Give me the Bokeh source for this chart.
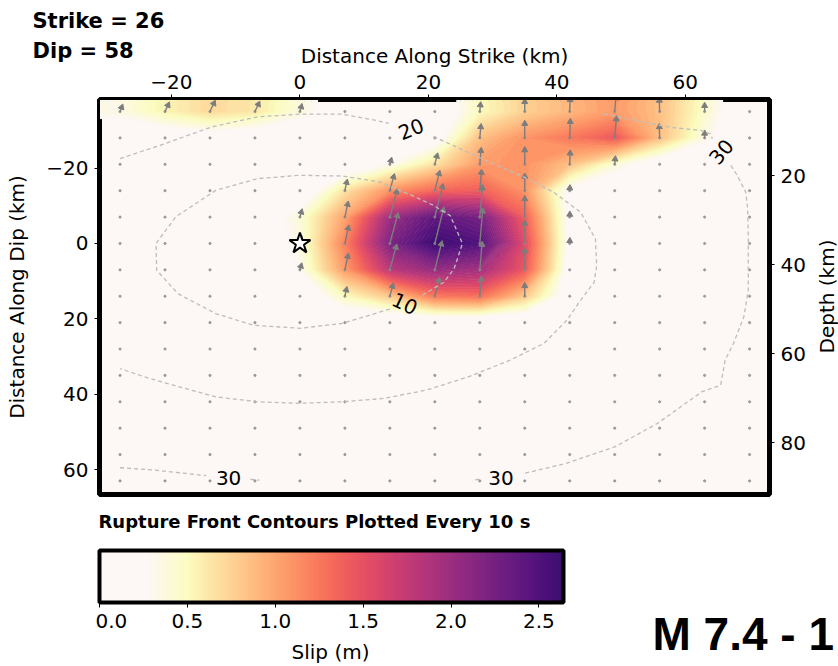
import math
import numpy as np
from bokeh.plotting import figure
from bokeh.models import (Range1d, LinearAxis, FixedTicker, LinearColorMapper, ColorBar,
                          PrintfTickFormatter)
from bokeh.palettes import Magma256
from bokeh.core.properties import value
from bokeh.embed import file_html
from bokeh.resources import INLINE

# ---------------- data ----------------
STRIKE = 26
DIP = 58
HYPO_DEPTH_KM = 35.2
HYPO_X = [0.0]
HYPO_Y = [0.0]

ALONG_STRIKE_KM = [-28, -21, -14, -7, 0, 7, 14, 21, 28, 35, 42, 49, 56, 63, 70]
ALONG_DIP_KM = [-35, -28, -21, -14, -7, 0, 7, 14, 21, 28, 35, 42, 49, 56, 63]

# slip (m) per subfault, rows = along dip (top to bottom), cols = along strike
SLIP_M = [
    [0.35, 0.55, 0.70, 0.62, 0.38, 0.10, 0.00, 0.05, 0.50, 0.75, 0.90, 1.05, 0.85, 0.45, 0.00],
    [0.05, 0.10, 0.15, 0.10, 0.05, 0.00, 0.05, 0.15, 0.85, 1.10, 1.25, 1.45, 0.85, 0.35, 0.00],
    [0.00, 0.00, 0.00, 0.00, 0.00, 0.05, 0.30, 0.65, 1.05, 1.10, 0.85, 0.40, 0.10, 0.00, 0.00],
    [0.00, 0.00, 0.00, 0.00, 0.05, 0.65, 1.10, 1.35, 1.40, 1.10, 0.20, 0.05, 0.00, 0.00, 0.00],
    [0.00, 0.00, 0.00, 0.05, 0.40, 1.00, 2.00, 2.40, 2.25, 1.40, 0.20, 0.00, 0.00, 0.00, 0.00],
    [0.00, 0.00, 0.00, 0.05, 0.35, 1.20, 2.20, 2.64, 2.50, 1.55, 0.20, 0.00, 0.00, 0.00, 0.00],
    [0.00, 0.00, 0.00, 0.00, 0.30, 1.05, 1.80, 2.05, 1.95, 1.45, 0.15, 0.00, 0.00, 0.00, 0.00],
    [0.00, 0.00, 0.00, 0.00, 0.05, 0.50, 0.80, 1.25, 1.30, 0.80, 0.10, 0.00, 0.00, 0.00, 0.00],
    [0.00] * 15,
    [0.00] * 15,
    [0.00] * 15,
    [0.00] * 15,
    [0.00] * 15,
    [0.00] * 15,
    [0.00] * 15,
]

# on-screen direction of the slip vectors per along-strike column (deg, CCW from east)
SLIP_DIR_DEG = [70, 65, 65, 65, 75, 78, 75, 76, 85, 90, 88, 85, 92, 90, 90]

# rupture front contours (km along strike, km along dip); gaps leave room for labels
RF10_X = [14.0, 6.6, 0.0, -7.2, -13.1, -19.0, -22.3, -22.4, -19.3, -13.1, -6.6, 0.0, 6.6,
          12.5, 17.5, 20.8, 23.4, 25.3, 24.0, 22.4, 18.6]
RF10_Y = [17.4, 21.2, 22.5, 21.7, 18.6, 13.3, 7.1, 0.0, -7.1, -14.1, -17.2, -18.1, -17.9,
          -16.3, -12.7, -10.1, -7.4, 0.0, 6.7, 10.3, 14.2]
RF20A_X = [-28.0, -21.0, -13.8, -6.6, 0.0, 6.6, 12.0, 13.8]
RF20A_Y = [-22.5, -26.5, -30.9, -33.6, -34.3, -34.3, -32.6, -31.9]
RF20B_X = [20.8, 25.5, 30.7, 34.9, 39.5, 43.7, 46.0, 46.2, 45.8, 43.5, 41.6, 38.0, 32.8, 26.2,
           19.7, 13.1, 6.6, 0.0, -6.6, -13.1, -19.7, -24.2, -28.0]
RF20B_Y = [-28.4, -24.7, -20.7, -17.6, -13.6, -8.3, -1.2, 5.8, 10.3, 15.5, 20.3, 26.5, 30.9,
           35.4, 38.9, 41.1, 42.0, 42.4, 42.0, 40.7, 37.6, 35.4, 33.2]
RF30A_X = [47.3, 51.0, 57.7, 62.4, 63.9, 64.2]
RF30A_Y = [-34.4, -33.1, -30.8, -30.0, -29.1, -27.8]
RF30B_X = [67.1, 68.1, 69.4, 69.7, 69.8, 69.8, 69.1, 67.5, 66.2, 65.5, 62.6, 55.7, 49.1, 41.3, 34.9]
RF30B_Y = [-20.7, -18.0, -13.6, -9.2, -1.8, 12.4, 19.5, 26.5, 30.9, 37.6, 39.3, 47.7, 53.9, 58.4, 61.0]
RF30C_X = [27.9, 26.8]
RF30C_Y = [62.5, 62.9]
RF30D_X = [-28.0, -22.9, -17.7, -14.6]
RF30D_Y = [59.5, 60.1, 61.0, 61.6]
RF30E_X = [-7.7, -6.3]
RF30E_Y = [62.6, 62.8]

RF_LABEL_TEXT = ["10", "20", "30", "30", "30"]
RF_LABEL_X = [16.3, 17.3, 65.6, -11.1, 31.3]
RF_LABEL_Y = [16.0, -30.3, -24.3, 62.3, 62.2]
RF_LABEL_DEG = [-25, 22, 50, 0, 0]

X_TICKS = [-20, 0, 20, 40, 60]
Y_TICKS = [-20, 0, 20, 40, 60]
DEPTH_TICKS = [20, 40, 60, 80]
SLIP_TICKS = [0.0, 0.5, 1.0, 1.5, 2.0, 2.5]
SLIP_MAX = 2.64

TITLE_LINES = ["M 7.4 - 1", "Tri"]

# ---------------- layout constants ----------------
W, H = 838, 666
FL, FT, FR, FB = 99, 99, 769, 494
X0, X1 = -31.2, 73.1
Y_TOP, Y_BOT = -38.2, 66.6
PX_PER_KM_X = (FR - FL) / (X1 - X0)
PX_PER_KM_Y = (FB - FT) / (Y_BOT - Y_TOP)
ARROW_PX_PER_M = 13.0
BG = "#fdf7f6"
FONT = "DejaVu Sans"
ARROW_GRAY = "#7d7d7d"


def hex2rgb(h):
    return tuple(int(h[i:i + 2], 16) for i in (1, 3, 5))


BG_RGB = hex2rgb(BG)
YEL_RGB = hex2rgb(Magma256[255])


def slip_color(s):
    if s <= 0.27:
        r, g, b = BG_RGB
    elif s < 0.5:
        w = (s - 0.27) / 0.23
        r, g, b = [round(a + (c - a) * w) for a, c in zip(BG_RGB, YEL_RGB)]
    else:
        t = min(1.0, max(0.0, 1.0 - 0.374 * (s - 0.5)))
        return Magma256[int(round(t * 255))]
    return "#%02x%02x%02x" % (r, g, b)


PALETTE = [slip_color(SLIP_MAX * i / 255) for i in range(256)]
mapper = LinearColorMapper(palette=PALETTE, low=0, high=SLIP_MAX)

# ---------------- main panel ----------------
p = figure(width=W, height=H, x_range=Range1d(X0, X1), y_range=Range1d(Y_BOT, Y_TOP),
           x_axis_location="above", output_backend="svg", toolbar_location=None,
           min_border_left=FL, min_border_right=W - FR, min_border_top=FT,
           min_border_bottom=H - FB)
p.background_fill_color = BG
p.border_fill_color = "white"
p.outline_line_color = "black"
p.outline_line_width = 5
p.grid.visible = False

# slip surface drawn as finely spaced filled contours of the subfault grid
xe = [ALONG_STRIKE_KM[0] - 3.5] + ALONG_STRIKE_KM + [ALONG_STRIKE_KM[-1] + 3.5]
ye = [ALONG_DIP_KM[0] - 3.5] + ALONG_DIP_KM + [ALONG_DIP_KM[-1] + 3.5]
ze = np.pad(np.array(SLIP_M, dtype=float), 1, mode="edge")
LEVELS = [round(0.27 + 0.04 * i, 3) for i in range(61)]
fills = [slip_color((a + b) / 2) for a, b in zip(LEVELS[:-1], LEVELS[1:])]
lines = [slip_color(l) for l in LEVELS]
p.contour(x=xe, y=ye, z=ze, levels=LEVELS, fill_color=fills, line_color=lines, line_width=1.0)

# subfault dots
gx, gy = np.meshgrid(ALONG_STRIKE_KM, ALONG_DIP_KM)
p.scatter(x=gx.ravel(), y=gy.ravel(), size=2.2, color="#8c8c8c", alpha=0.8)

# slip vectors (shaft + head), clipped to the frame
x0s, y0s, x1s, y1s, head_ang = [], [], [], [], []
for j, yk in enumerate(ALONG_DIP_KM):
    for i, xk in enumerate(ALONG_STRIKE_KM):
        s = SLIP_M[j][i]
        if s < 0.2:
            continue
        L = ARROW_PX_PER_M * s
        a = math.radians(SLIP_DIR_DEG[i])
        x0s.append(xk)
        y0s.append(yk)
        x1s.append(xk + L * math.cos(a) / PX_PER_KM_X)
        y1s.append(yk - L * math.sin(a) / PX_PER_KM_Y)
        head_ang.append(a - math.pi / 2)
p.segment(x0=x0s, y0=y0s, x1=x1s, y1=y1s, line_color=ARROW_GRAY, line_width=1.4)
p.scatter(x=x1s, y=y1s, marker="triangle", angle=head_ang, size=6,
          fill_color=ARROW_GRAY, line_color=ARROW_GRAY)

# rupture front contours
p.multi_line(xs=[RF10_X, RF20A_X, RF20B_X, RF30A_X, RF30B_X, RF30C_X, RF30D_X, RF30E_X],
             ys=[RF10_Y, RF20A_Y, RF20B_Y, RF30A_Y, RF30B_Y, RF30C_Y, RF30D_Y, RF30E_Y],
             line_color="#bdbdbd", line_width=1.3, line_dash="4 3")
p.text(x=RF_LABEL_X, y=RF_LABEL_Y, text=RF_LABEL_TEXT,
       angle=[math.radians(d) for d in RF_LABEL_DEG],
       text_font=value(FONT), text_font_size="20px", text_color="black",
       text_align="center", text_baseline="middle")

# hypocentre
p.scatter(x=HYPO_X, y=HYPO_Y, marker="star", size=22, fill_color="white",
          line_color="black", line_width=2)


def style_axis(ax, label_standoff=6):
    ax.major_label_text_font = FONT
    ax.major_label_text_font_size = "20px"
    ax.major_label_text_color = "black"
    ax.axis_label_text_font = FONT
    ax.axis_label_text_font_size = "20px"
    ax.axis_label_text_font_style = "normal"
    ax.axis_label_text_color = "black"
    ax.major_tick_out = 5
    ax.major_tick_in = 0
    ax.minor_tick_out = 0
    ax.minor_tick_in = 0
    ax.major_tick_line_color = "black"
    ax.axis_line_color = "black"
    ax.major_label_standoff = 6
    ax.axis_label_standoff = label_standoff


p.xaxis.ticker = FixedTicker(ticks=X_TICKS)
p.yaxis.ticker = FixedTicker(ticks=Y_TICKS)
p.xaxis.axis_label = "Distance Along Strike (km)"
p.yaxis.axis_label = "Distance Along Dip (km)"
p.xaxis.major_label_overrides = {t: ("\u2212%d" % -t if t < 0 else str(t)) for t in X_TICKS}
p.yaxis.major_label_overrides = {t: ("\u2212%d" % -t if t < 0 else str(t)) for t in Y_TICKS}
for ax in p.xaxis:
    style_axis(ax, 4)
for ax in p.yaxis:
    style_axis(ax, 14)

sin_dip = math.sin(math.radians(DIP))
p.extra_y_ranges = {"depth": Range1d(HYPO_DEPTH_KM + sin_dip * Y_BOT,
                                     HYPO_DEPTH_KM + sin_dip * Y_TOP)}
rax = LinearAxis(y_range_name="depth", ticker=FixedTicker(ticks=DEPTH_TICKS))
style_axis(rax)
p.add_layout(rax, "right")

# ---------------- transparent text layer over the whole page ----------------
ov = figure(width=W, height=H, x_range=Range1d(0, W), y_range=Range1d(0, H),
            min_border=0, x_axis_type=None, y_axis_type=None, toolbar_location=None,
            output_backend="svg",
            styles={"position": "absolute", "left": "0px", "top": "0px"})
ov.background_fill_alpha = 0
ov.border_fill_alpha = 0
ov.outline_line_color = None
ov.grid.visible = False


def ov_text(texts, xs, ys, size="20px", style="normal", align="left", baseline="middle",
            angle=0.0, font=FONT):
    ov.text(x=xs, y=[H - y for y in ys], text=texts, angle=angle,
            text_font=value(font), text_font_size=size, text_font_style=style,
            text_align=align, text_baseline=baseline, text_color="black")


ov_text(["Strike = %d" % STRIKE, "Dip = %d" % DIP], [32, 32], [20, 50], size="21px",
        style="bold")
ov_text(["Depth (km)"], [826], [296], align="center", angle=math.pi / 2)
ov_text(["Rupture Front Contours Plotted Every 10 s"], [98], [521], size="18px", style="bold")
ov_text(["Slip (m)"], [330], [651], align="center")
ov_text(TITLE_LINES, [652, 652], [633, 697], size="46px", style="bold",
        baseline="alphabetic", font="Liberation Sans")

# ---------------- colour bar ----------------
CBW, CBH = 464, 52
cbf = figure(width=CBW + 46, height=110, x_range=Range1d(0, 1), y_range=Range1d(0, 1),
             min_border_left=4, min_border_top=4, min_border_right=42,
             min_border_bottom=110 - 4 - CBH, x_axis_type=None, y_axis_type=None,
             toolbar_location=None, output_backend="svg",
             styles={"position": "absolute", "left": "95px", "top": "546px"})
cbf.background_fill_alpha = 0
cbf.border_fill_alpha = 0
cbf.outline_line_color = None
cbf.grid.visible = False
color_bar = ColorBar(color_mapper=mapper, orientation="horizontal", location="top_left",
                     width=CBW, height=CBH, padding=0, margin=0,
                     ticker=FixedTicker(ticks=SLIP_TICKS),
                     formatter=PrintfTickFormatter(format="%.1f"),
                     major_label_text_font=FONT, major_label_text_font_size="20px",
                     major_label_text_color="black",
                     major_tick_out=5, major_tick_in=0, major_tick_line_color="black",
                     minor_tick_line_color=None,
                     bar_line_color="black", bar_line_width=4, label_standoff=6,
                     background_fill_alpha=0, border_line_color=None)
cbf.add_layout(color_bar)

open("out.html", "w").write(file_html([p, ov, cbf], INLINE))
